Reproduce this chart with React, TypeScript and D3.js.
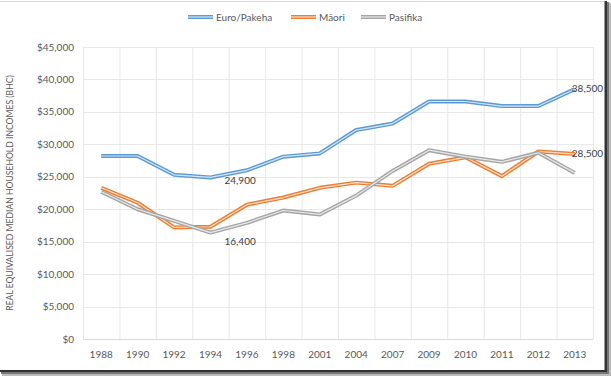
import React from "react";
import * as d3 from "d3";

const years = ["1988","1990","1992","1994","1996","1998","2001","2004","2007","2009","2010","2011","2012","2013"];
const euro = [28200,28200,25300,24900,26000,28100,28600,32200,33200,36600,36600,35900,35900,38500];
const maori = [23300,21000,17200,17300,20700,21800,23300,24100,23600,27000,28000,25100,28900,28500];
const pasifika = [22700,20000,18200,16400,17900,19800,19200,22100,25900,29100,28100,27300,28700,25600];
const yTicks = [0,5000,10000,15000,20000,25000,30000,35000,40000,45000];
const seriesNames = ["Euro/Pakeha","Māori","Pasifika"];
const colors = ["#5B9BD5","#ED7D31","#A5A5A5"];

const W = 611, H = 376;
const left = 83, right = 593, top = 47, bottom = 339;
const FONT = "Lato, 'Open Sans', sans-serif";

export default function App() {
  const x = d3.scaleBand().domain(years).range([left, right]);
  const y = d3.scaleLinear().domain([0, 45000]).range([bottom, top]);
  const cx = (yr: string) => (x(yr) as number) + x.bandwidth() / 2;
  const line = d3.line<number>().x((_, i) => cx(years[i])).y(d => y(d));
  const all = [euro, maori, pasifika];
  const fmt = d3.format(",");
  const legendX = [188, 291, 361];
  const labels = [
    { s: 0, i: 3, dx: 14, dy: 7 },
    { s: 2, i: 3, dx: 14, dy: 12 },
    { s: 0, i: 13, dx: -3, dy: 3 },
    { s: 1, i: 13, dx: -3, dy: 3 },
  ];
  return (
    <svg width={W} height={H} style={{ position: "absolute", left: 0, top: 0 }} fontFamily={FONT}>
      <rect x={0} y={0} width={W} height={H} fill="#fff" />
      <rect x={2} y={3} width={609} height={373} fill="#bbb" />
      <rect x={1} y={2} width={608} height={372} fill="#777" />
      <rect x={0} y={1} width={607} height={371} fill="#333" />
      <rect x={0} y={0} width={604.5} height={370} fill="#fff" />
      <line x1={0} x2={604} y1={1.5} y2={1.5} stroke="#d9d9d9" />
      {x.domain().map((yr, i) => (
        <line key={"v" + i} x1={(x(yr) as number) + 0.5} x2={(x(yr) as number) + 0.5} y1={top} y2={bottom} stroke="#e8e8e8" />
      ))}
      <line x1={right + 0.5} x2={right + 0.5} y1={top} y2={bottom} stroke="#e8e8e8" />
      {yTicks.map(t => (
        <g key={"y" + t}>
          <line x1={left} x2={right} y1={Math.round(y(t)) + 0.5} y2={Math.round(y(t)) + 0.5} stroke={t === 0 ? "#d9d9d9" : "#e8e8e8"} />
          <text x={74} y={y(t) + 3.5} textAnchor="end" fontSize={10} fill="#595959">${fmt(t)}</text>
        </g>
      ))}
      {years.map(yr => (
        <text key={"x" + yr} x={cx(yr)} y={358} textAnchor="middle" fontSize={10} fill="#595959">{yr}</text>
      ))}
      <text transform={`translate(13,${(top + bottom) / 2}) rotate(-90)`} textAnchor="middle" fontSize={8.6} fill="#595959">
        REAL EQUIVALISED MEDIAN HOUSEHOLD INCOMES (BHC)
      </text>
      {all.map((d, s) => (
        <g key={"s" + s}>
          <path d={line(d) as string} fill="none" stroke={colors[s]} strokeWidth={4} strokeLinejoin="round" />
          <path d={line(d) as string} fill="none" stroke="#fff" strokeOpacity={0.75} strokeWidth={1.2} strokeLinejoin="round" />
        </g>
      ))}
      {labels.map((l, k) => (
        <text key={"l" + k} x={cx(years[l.i]) + l.dx} y={y(all[l.s][l.i]) + l.dy} fontSize={10} fill="#404040">{fmt(all[l.s][l.i])}</text>
      ))}
      {seriesNames.map((n, s) => (
        <g key={"lg" + s}>
          <line x1={legendX[s]} x2={legendX[s] + 25} y1={17} y2={17} stroke={colors[s]} strokeWidth={4} />
          <line x1={legendX[s]} x2={legendX[s] + 25} y1={17} y2={17} stroke="#fff" strokeOpacity={0.75} strokeWidth={1.2} />
          <text x={legendX[s] + 28} y={20.5} fontSize={10} fill="#595959">{n}</text>
        </g>
      ))}
    </svg>
  );
}
